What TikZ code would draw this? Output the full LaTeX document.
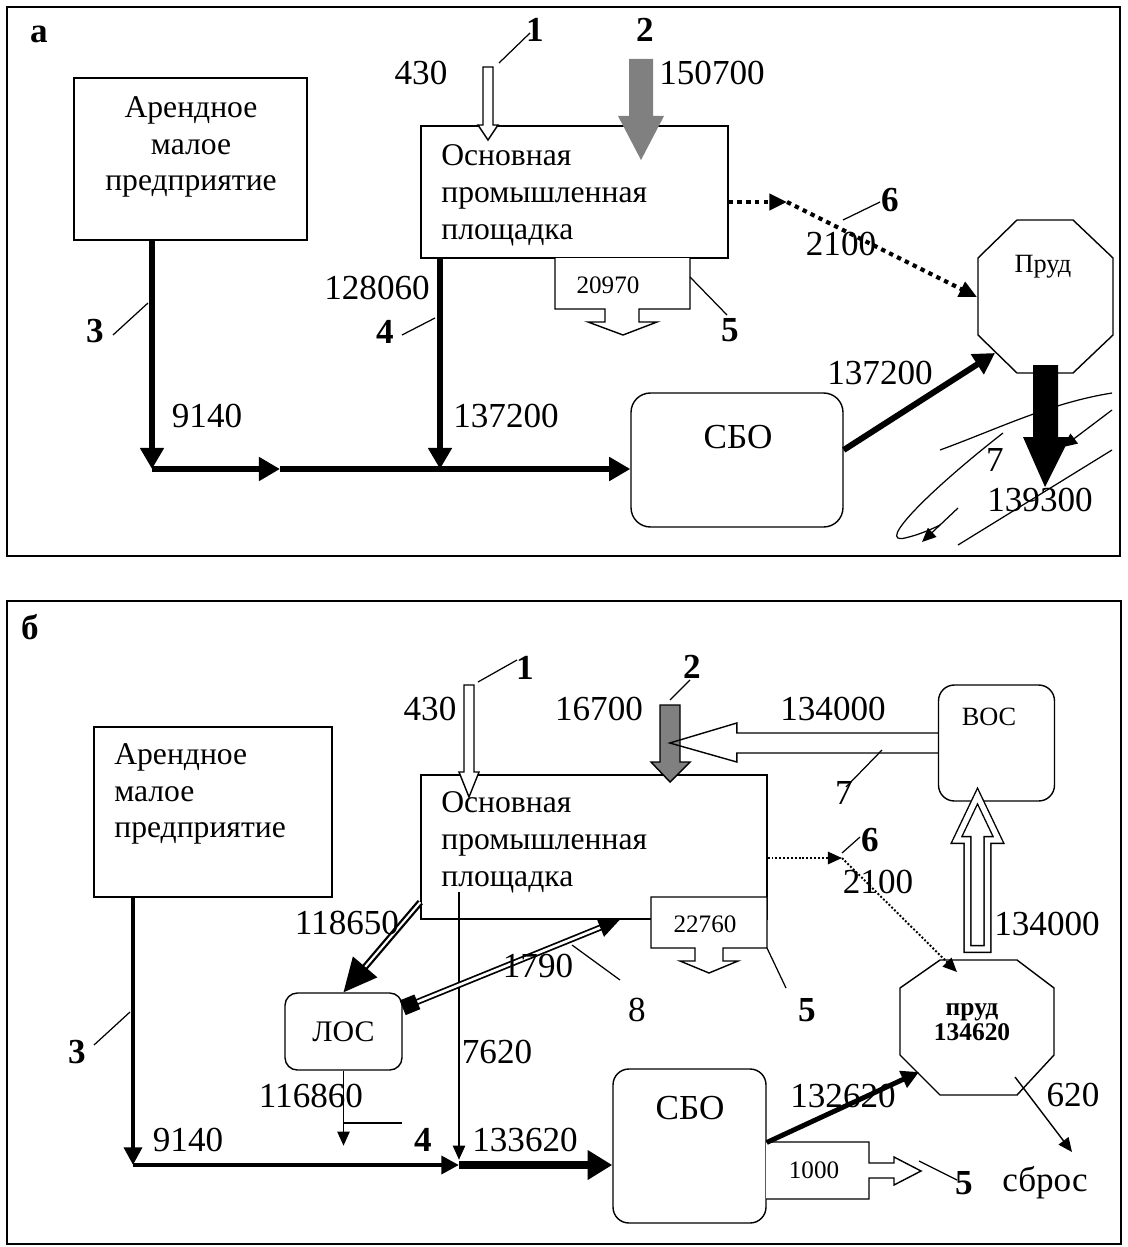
\documentclass[tikz,border=0pt]{standalone}
\usepackage{fontspec}
\setmainfont{Liberation Serif}
\usetikzlibrary{arrows.meta, positioning}

\begin{document}
\begin{tikzpicture}[x=0.02cm, y=-0.02cm,
    every node/.style={inner sep=0pt, font=\fontsize{20}{23}\selectfont},
    frame/.style={line width=1.5pt},
    box/.style={draw, line width=0.8pt},
    rbox/.style={box, rounded corners=9pt},
    boxtext/.style={font=\fontsize{18}{21}\selectfont},
    small/.style={font=\fontsize{14.3}{14.3}\selectfont},
    num/.style={font=\fontsize{20}{23}\selectfont\bfseries},
    lead/.style={line width=0.7pt},
    flowA/.style={line width=3.4pt, -{Triangle[length=12pt,width=13pt]}},
    flowB/.style={line width=2.8pt, -{Triangle[length=10pt,width=10pt]}},
    mainflow/.style={line width=4.6pt, -{Triangle[length=14pt,width=16pt]}},
    thinflow/.style={line width=0.8pt, -{Triangle[length=8pt,width=7pt]}},
    dotsA/.style={line width=2.3pt, dash pattern=on 2.5pt off 2.5pt, -{Triangle[length=10pt,width=9pt]}},
    dotsB/.style={line width=1.1pt, dash pattern=on 1.1pt off 1.1pt, -{Triangle[length=8pt,width=7pt]}},
    dflow/.style={double, line width=1.3pt, double distance=1.2pt, -{Triangle[length=19pt,width=18pt]}},
    dflowS/.style={double, line width=1pt, double distance=1.5pt, {Square[length=9pt,width=9pt]}-{Triangle[length=12pt,width=11pt]}},
    hollow/.style={draw, fill=white, line width=0.8pt}
  ]
  \useasboundingbox (0,0) rectangle (1128,1247);

  % ---------- panel a ----------
  \draw[frame] (7,7) rectangle (1120,556);
  \node[num] (tagA) at (39,34) {а};

  \node[box, minimum width=4.66cm, minimum height=3.24cm] (rentA) at (190.5,159) {};
  \node[box, minimum width=6.14cm, minimum height=2.64cm] (plantA) at (574.5,192) {};
  \node[rbox, rounded corners=11pt, minimum width=4.24cm, minimum height=2.68cm] (sboA) at (737,460) {};
  \draw[box] (1017,220) -- (1073,220) -- (1113,258) -- (1113,335) -- (1073,373)
    -- (1017,373) -- (978,335) -- (978,258) -- cycle;

  % outlet 20970
  \draw[hollow] (555,258) -- (555,309) -- (605,309) -- (605,322) -- (588,322) -- (623,335)
    -- (657,322) -- (639,322) -- (639,309) -- (690,309) -- (690,258);

  \coordinate (jA3) at (152,469);
  \coordinate (midA) at (280,469);
  \coordinate (jA4) at (440,469);
  \coordinate (dotA) at (787,202);
  \coordinate (pondAdot) at (977,297);
  \coordinate (pondAin) at (995,353);

  \draw[flowA] (rentA.south -| jA3) -- (jA3);
  \draw[flowA] (jA3) -- (midA);
  \draw[flowA] (midA) -- (sboA.west |- jA3);
  \draw[flowA] (plantA.south -| jA4) -- (jA4);
  \draw[flowA] ([yshift=5.7pt]sboA.east) -- (pondAin);
  \draw[dotsA] (plantA.east |- dotA) -- (dotA);
  \draw[dotsA] (dotA) -- (pondAdot);

  % inflows 1, 2 and outflow 7
  \draw[hollow] (483,67) -- (483,125) -- (478,125) -- (488,140) -- (498,125) -- (493,125) -- (493,67) -- cycle;
  \fill[gray] (629,59) -- (629,116) -- (618,116) -- (641,160) -- (664,116) -- (653,116) -- (653,59) -- cycle;
  \fill (1033,365) -- (1033,437) -- (1023,437) -- (1045,487) -- (1070,437) -- (1058,437) -- (1058,365) -- cycle;

  % river
  \draw[lead] (940,450) .. controls (1000,428) and (1050,403) .. (1112,393);
  \draw[lead, -{Triangle[length=8pt,width=7pt]}] (1112,410) -- (1063,447);
  \draw[lead] (1112,450) -- (958,545);
  \draw[lead] (1003,433) .. controls (930,490) and (875,545) .. (905,538)
    .. controls (918,535) and (930,530) .. (940,525);
  \draw[lead, -{Triangle[length=8pt,width=7pt]}] (958,508) -- (922,542);

  \node[boxtext, align=center] (rentAtxt) at (191,147) {Арендное\\малое\\предприятие};
  \node[boxtext, align=left, anchor=west] (plantAtxt) at (441,195) {Основная\\промышленная\\площадка};
  \node (sboAtxt) at (738,437) {СБО};
  \node[font=\fontsize{15}{15}\selectfont] (pondA) at (1043,267) {Пруд};
  \node[small] (vA20970) at (608,285) {20970};

  \node (vA430) at (421,73) {430};
  \node (vA150700) at (712,73) {150700};
  \node (vA128060) at (377,288) {128060};
  \node (vA9140) at (207,416) {9140};
  \node (vA137200) at (506,416) {137200};
  \node (vA2100) at (841,244) {2100};
  \node (vA137200p) at (880,373) {137200};
  \node (vA7) at (995,460) {7};
  \node (vA139300) at (1040,500) {139300};

  \node[num] (nA1) at (535,30) {1};
  \node[num] (nA2) at (645,30) {2};
  \node[num] (nA3) at (95,331) {3};
  \node[num] (nA4) at (385,332) {4};
  \node[num] (nA5) at (730,330) {5};
  \node[num] (nA6) at (890,200) {6};
  \draw[lead] (nA1) ++(-5,3) -- ++(-31,30);
  \draw[lead] (nA3) ++(18,4) -- ++(35,-32);
  \draw[lead] (nA4) ++(17,3) -- ++(33,-17);
  \draw[lead] (nA5) ++(-3,-15) -- ++(-37,-38);
  \draw[lead] (nA6) ++(-10,2) -- ++(-37,18);

  % ---------- panel b ----------
  \draw[frame] (7,601) rectangle (1121,1244);
  \node[num] (tagB) at (30,627) {б};

  \node[box, minimum width=4.76cm, minimum height=3.4cm] (rentB) at (213,812) {};
  \node[box, minimum width=6.92cm, minimum height=2.88cm] (plantB) at (594,847) {};
  \node[rbox, rounded corners=7pt, minimum width=2.34cm, minimum height=1.54cm,
        font=\fontsize{17}{17}\selectfont] (losB) at (343.5,1031.5) {ЛОС};
  \node[rbox, minimum width=2.32cm, minimum height=2.32cm] (vosB) at (996.5,743) {};
  \node[rbox, minimum width=3.06cm, minimum height=3.08cm] (sboB) at (689.5,1146) {};
  \draw[box] (940,960) -- (1017,960) -- (1054,988) -- (1054,1055) -- (1017,1095)
    -- (940,1095) -- (900,1055) -- (900,988) -- cycle;

  % outlets 22760 and 1000
  \draw[hollow] (651,897) -- (651,948) -- (695,948) -- (695,961) -- (680,961) -- (709,973)
    -- (738,961) -- (723,961) -- (723,948) -- (767,948) -- (767,897) -- cycle;
  \draw[hollow] (766,1142) -- (869,1142) -- (869,1163) -- (894,1163) -- (894,1157) -- (921,1171)
    -- (894,1185) -- (894,1178) -- (869,1178) -- (869,1199) -- (766,1199);

  \coordinate (jB3) at (133,1165);
  \coordinate (jB4) at (459,1165);
  \coordinate (top7620) at (459,892);
  \coordinate (dotB) at (842,858);
  \coordinate (pondBdot) at (957,972);
  \coordinate (pondBin) at (919,1072);
  \coordinate (pond620) at (1015,1077);
  \coordinate (dropB) at (1072,1152);

  \draw[flowB] (rentB.south -| jB3) -- (jB3);
  \draw[flowB] (jB3) -- (jB4);
  \draw[mainflow] (jB4) -- (sboB.west |- jB4);
  \draw[thinflow] (top7620) -- ([yshift=3pt]jB4);
  \draw[thinflow] (losB.south) -- ++(0,75);
  \draw[dflow] ([yshift=10pt]plantB.south west) -- (losB.north);
  \draw[dflowS] ([yshift=13.5pt]losB.east) -- ([xshift=14.7pt]plantB.south);
  \draw[dotsB] (plantB.east |- dotB) -- (dotB);
  \draw[dotsB] (dotB) -- (pondBdot);
  \draw[flowB] ([yshift=2pt]sboB.east) -- (pondBin);
  \draw[thinflow] (pond620) -- (dropB);

  % inflows 1, 2, return from ВОС, pond to ВОС
  \draw[hollow] (464,685) -- (464,772) -- (459,772) -- (469,797) -- (479,772) -- (474,772) -- (474,685) -- cycle;
  \draw[fill=gray, line width=0.8pt] (660,705) -- (660,762) -- (651,762) -- (670,782) -- (690,762)
    -- (680,762) -- (680,705) -- cycle;
  \draw[line width=0.8pt] (vosB.west) ++(0,-10) -- ++(-201,0) -- ++(0,-10) -- ++(-67,20)
    -- ++(67,19) -- ++(0,-9) -- ++(201,0);
  \draw[line width=0.8pt, double, double distance=3pt] (967.5,949) -- (967.5,840) -- (956.5,840)
    -- (977.5,796) -- (998.5,840) -- (987.5,840) -- (987.5,949) -- cycle;

  \node[boxtext, align=left, anchor=west] (rentBtxt) at (114,794) {Арендное\\малое\\предприятие};
  \node[boxtext, align=left, anchor=west] (plantBtxt) at (441,842) {Основная\\промышленная\\площадка};
  \node (sboBtxt) at (690,1108) {СБО};
  \node[font=\fontsize{15}{15}\selectfont] (vosBtxt) at (989,717) {ВОС};
  \node[font=\fontsize{14.5}{14.5}\selectfont\bfseries, align=center] (pondB) at (972,1022) {пруд\\134620};
  \node[small] (vB22760) at (705,924) {22760};
  \node[small] (vB1000) at (814,1170) {1000};

  \node (vB430) at (430,709) {430};
  \node (vB16700) at (599,709) {16700};
  \node (vB134000a) at (833,709) {134000};
  \node (vB134000b) at (1047,924) {134000};
  \node (vB2100) at (878,882) {2100};
  \node (vB118650) at (347,923) {118650};
  \node (vB1790) at (538,966) {1790};
  \node (vB7620) at (497,1052) {7620};
  \node (vB116860) at (311,1096) {116860};
  \node (vB9140) at (188,1140) {9140};
  \node (vB133620) at (525,1140) {133620};
  \node (vB132620) at (843,1096) {132620};
  \node (vB620) at (1073,1095) {620};
  \node (vB7) at (844,793) {7};
  \node (vB8) at (637,1010) {8};
  \node (sbros) at (1045,1183) {сброс};

  \node[num] (nB1) at (525,668) {1};
  \node[num] (nB2) at (692,667) {2};
  \node[num] (nB3) at (77,1052) {3};
  \node[num] (nB4) at (423,1140) {4};
  \node[num] (nB5a) at (807,1010) {5};
  \node[num] (nB5b) at (964,1183) {5};
  \node[num] (nB6) at (870,840) {6};
  \draw[lead] (nB1) ++(-8,-8) -- ++(-39,22);
  \draw[lead] (nB2) ++(-2,13) -- ++(-20,20);
  \draw[lead] (nB3) ++(17,-7) -- ++(36,-33);
  \draw[lead] (nB4) ++(-21,-17) -- ++(-58,0);
  \draw[lead] (nB5a) ++(-21,-22) -- ++(-19,-40);
  \draw[lead] (nB5b) ++(-7,-3) -- ++(-38,-19);
  \draw[lead] (nB6) ++(-10,-3) -- ++(-18,16);
  \draw[lead] (vB7) ++(2,-6) -- ++(36,-37);
  \draw[lead] (vB8) ++(-17,-30) -- ++(-48,-35);
\end{tikzpicture}
\end{document}
